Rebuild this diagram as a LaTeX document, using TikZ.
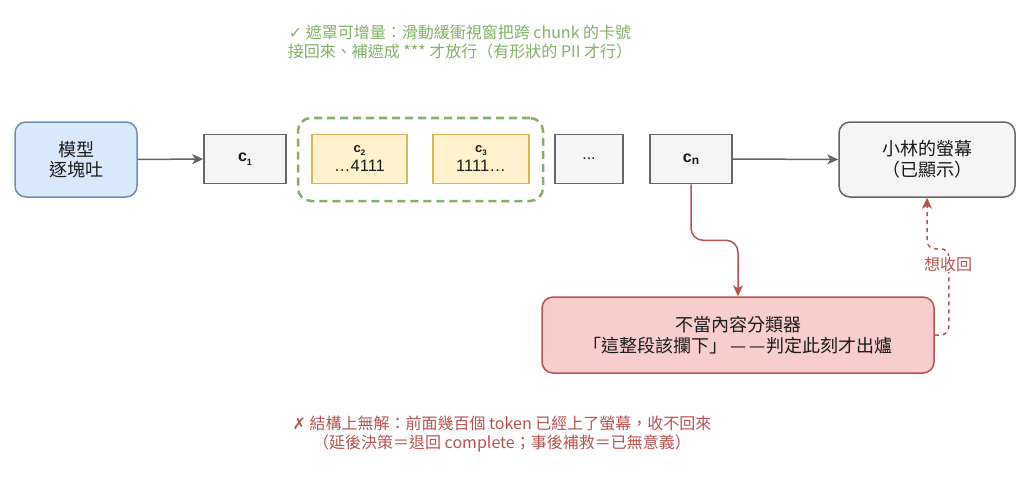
\documentclass[tikz,border=0pt]{standalone}
\usepackage{fontspec}
\setmainfont{Noto Sans CJK TC}
\newfontfamily\lat{Liberation Sans}
\newfontfamily\dejavu{DejaVu Sans}
\usetikzlibrary{arrows.meta,calc}
\definecolor{bluefill}{HTML}{DAE8FC}
\definecolor{bluedraw}{HTML}{6C8EBF}
\definecolor{grayfill}{HTML}{F5F5F5}
\definecolor{graydraw}{HTML}{666666}
\definecolor{yelfill}{HTML}{FFF2CC}
\definecolor{yeldraw}{HTML}{D6B656}
\definecolor{redfill}{HTML}{F8CECC}
\definecolor{reddraw}{HTML}{B85450}
\definecolor{greendraw}{HTML}{82B366}
\definecolor{txt}{HTML}{1A1A1A}
\begin{document}
\begin{tikzpicture}[x=1pt,y=-1pt,
  box/.style={draw, line width=1.5pt, inner sep=0pt, align=center, text=txt,
    font=\fontsize{18}{20.5}\selectfont},
  graybox/.style={box, fill=grayfill, draw=graydraw},
  yelbox/.style={box, fill=yelfill, draw=yeldraw, minimum width=95pt, minimum height=49pt},
  chunkbox/.style={graybox, minimum height=49pt},
  garrow/.style={draw=graydraw, line width=1.5pt, -{Stealth[length=11pt,width=10pt,inset=3pt]}},
  rarrow/.style={draw=reddraw, line width=1.5pt, rounded corners=12pt, -{Stealth[length=11pt,width=10pt,inset=3pt]}},
  note/.style={inner sep=0pt, align=center, font=\fontsize{16}{19}\selectfont}
]
\useasboundingbox (0,0) rectangle (1024,476);
\fill[white] (0,0) rectangle (1024,476);

% annotation top
\node[note, text=greendraw] (topnote) at (460,42.5)
  {{\dejavu ✓} 遮罩可增量：滑動緩衝視窗把跨 chunk 的卡號\\接回來、補遮成 *** 才放行（有形狀的 PII 才行）};

% group
\node[draw=greendraw, line width=2.5pt, dash pattern=on 8pt off 5pt, rounded corners=13pt,
  minimum width=245pt, minimum height=83pt, inner sep=0pt] (grp) at (420.5,159.5) {};

\node[box, fill=bluefill, draw=bluedraw, rounded corners=11pt, minimum width=122pt, minimum height=75pt]
  (model) at (76,159.5) {模型\\逐塊吐};

\node[chunkbox, minimum width=82pt] (c1) at (245,159)
  {\lat\fontsize{16}{16}\selectfont\bfseries c\raisebox{-4pt}{\fontsize{9}{9}\selectfont 1}};

\node[yelbox, font=\lat\fontsize{16.5}{18}\selectfont] (c2) at (359.5,159)
  {{\bfseries\fontsize{13}{13}\selectfont c\raisebox{-3pt}{\fontsize{8}{8}\selectfont 2}}\\[1pt]…4111};
\node[yelbox, minimum width=96pt, font=\lat\fontsize{16.5}{18}\selectfont] (c3) at (481,159)
  {{\bfseries\fontsize{13}{13}\selectfont c\raisebox{-3pt}{\fontsize{8}{8}\selectfont 3}}\\[1pt]1111…};

\node[chunkbox, minimum width=68pt, font=\lat\fontsize{16}{16}\selectfont] (dots) at (589,159) {...};

\node[chunkbox, minimum width=82pt] (cn) at (691,159)
  {\lat\fontsize{16}{16}\selectfont\bfseries c\raisebox{-2pt}{\fontsize{12}{12}\selectfont n}};

\node[graybox, rounded corners=11pt, minimum width=176pt, minimum height=75pt]
  (screen) at (927,159.5) {小林的螢幕\\（已顯示）};

\node[box, fill=redfill, draw=reddraw, rounded corners=11pt, minimum width=392pt, minimum height=76pt]
  (cls) at (738,335) {不當內容分類器\\「這整段該攔下」\kern3pt—\kern3pt—\kern1pt判定此刻才出爐};

% arrows
\draw[garrow] (model.east) -- (c1.west);
\draw[garrow] (cn.east) -- (screen.west);
\draw[rarrow] (cn.south) |- ($(cls.north)+(0,-56)$) -- (cls.north);
\draw[rarrow, dash pattern=on 4pt off 4pt, rounded corners=8pt]
  (cls.east) -- ++(14,0) |- ($(screen.south)+(0,51)$) -- (screen.south);
\node[note, text=reddraw, fill=white, inner sep=1pt] (lbl) at (948,264) {想收回};

% bottom note
\node[note, text=reddraw] (botnote) at (502,434)
  {{\dejavu ✗} 結構上無解：前面幾百個 token 已經上了螢幕，收不回來\\（延後決策＝退回 complete；事後補救＝已無意義）};
\end{tikzpicture}
\end{document}
